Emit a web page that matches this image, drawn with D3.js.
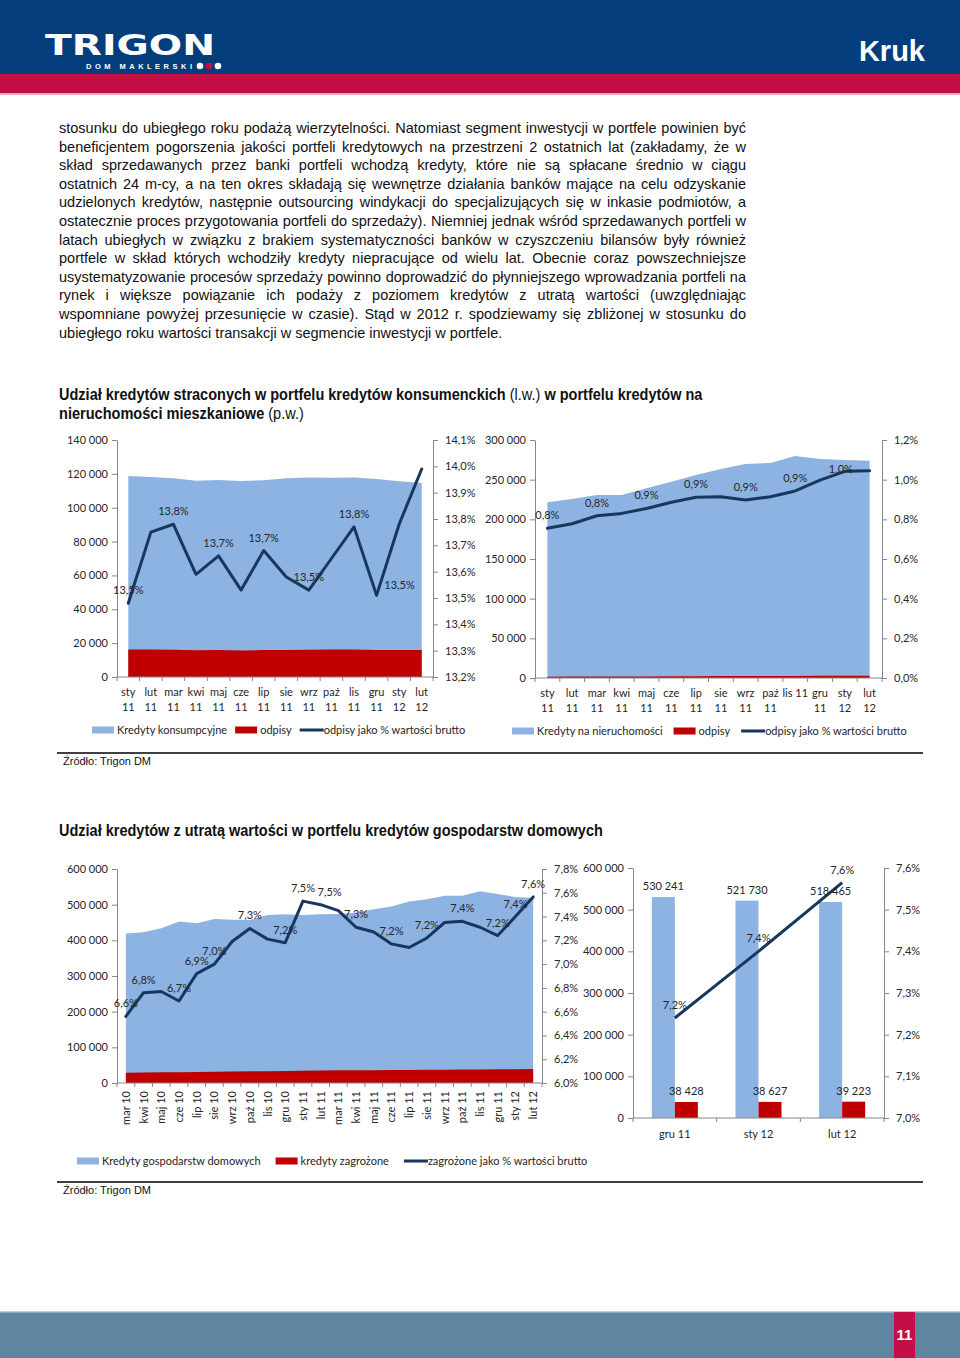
<!DOCTYPE html>
<html><head><meta charset="utf-8">
<script src="https://cdn.jsdelivr.net/npm/d3@7"></script>
<style>body{margin:0;background:#fff}svg{display:block}</style>
</head><body><div id="c"></div>
<script>
// ---------------- DATA ----------------
const paragraphLines = [
"stosunku do ubiegłego roku podażą wierzytelności. Natomiast segment inwestycji w portfele powinien być",
"beneficjentem pogorszenia jakości portfeli kredytowych na przestrzeni 2 ostatnich lat (zakładamy, że w",
"skład sprzedawanych przez banki portfeli wchodzą kredyty, które nie są spłacane średnio w ciągu",
"ostatnich 24 m-cy, a na ten okres składają się wewnętrze działania banków mające na celu odzyskanie",
"udzielonych kredytów, następnie outsourcing windykacji do specjalizujących się w inkasie podmiotów, a",
"ostatecznie proces przygotowania portfeli do sprzedaży). Niemniej jednak wśród sprzedawanych portfeli w",
"latach ubiegłych w związku z brakiem systematyczności banków w czyszczeniu bilansów były również",
"portfele w skład których wchodziły kredyty niepracujące od wielu lat. Obecnie coraz powszechniejsze",
"usystematyzowanie procesów sprzedaży powinno doprowadzić do płynniejszego wprowadzania portfeli na",
"rynek i większe powiązanie ich podaży z poziomem kredytów z utratą wartości (uwzględniając",
"wspomniane powyżej przesunięcie w czasie). Stąd w 2012 r. spodziewamy się zbliżonej w stosunku do",
"ubiegłego roku wartości transakcji w segmencie inwestycji w portfele."
];

// Chart 1: consumer loans
const chart1Categories = ["sty\n11","lut\n11","mar\n11","kwi\n11","maj\n11","cze\n11","lip\n11","sie\n11","wrz\n11","paź\n11","lis\n11","gru\n11","sty\n12","lut\n12"];
const chart1Loans = [118700,118100,117400,116000,116400,115800,116200,117400,117900,117700,117900,117000,115600,114600];
const chart1Writeoffs = [16300,16300,16100,15800,15900,15700,15900,16000,16100,16200,16300,15900,15900,16000];
const chart1Ratio = [13.48,13.75,13.78,13.59,13.66,13.53,13.68,13.58,13.53,13.65,13.77,13.51,13.78,13.99];
const chart1LabelIdx = [0,2,4,6,8,10,11];
const chart1LeftTicks = [0,20000,40000,60000,80000,100000,120000,140000];
const chart1RightTicks = [13.2,13.3,13.4,13.5,13.6,13.7,13.8,13.9,14.0,14.1];
const chart1Legend = ["Kredyty konsumpcyjne","odpisy","odpisy jako % wartości brutto"];

// Chart 2: mortgage loans
const chart2Categories = ["sty\n11","lut\n11","mar\n11","kwi\n11","maj\n11","cze\n11","lip\n11","sie\n11","wrz\n11","paź\n11","lis 11","gru\n11","sty\n12","lut\n12"];
const chart2Loans = [221400,225600,230700,230700,239100,247500,255900,263400,269700,271000,279800,276000,274800,274000];
const chart2Writeoffs = [1700,1800,1900,1900,2000,2200,2300,2400,2400,2500,2600,2800,2900,2900];
const chart2Ratio = [0.755,0.778,0.818,0.830,0.855,0.886,0.911,0.914,0.897,0.914,0.943,0.998,1.042,1.045];
const chart2LabelIdx = [0,2,4,6,8,10,12];
const chart2LeftTicks = [0,50000,100000,150000,200000,250000,300000];
const chart2RightTicks = [0,0.2,0.4,0.6,0.8,1.0,1.2];
const chart2Legend = ["Kredyty na nieruchomości","odpisy","odpisy jako % wartości brutto"];

// Chart 3: household loans
const chart3Categories = ["mar 10","kwi 10","maj 10","cze 10","lip 10","sie 10","wrz 10","paź 10","lis 10","gru 10","sty 11","lut 11","mar 11","kwi 11","maj 11","cze 11","lip 11","sie 11","wrz 11","paź 11","lis 11","gru 11","sty 12","lut 12"];
const chart3Loans = [419000,422700,434200,452900,448200,459700,457700,456900,471200,472800,471200,472800,474000,477600,487100,494700,509000,515400,524900,524900,537300,530241,521730,518465];
const chart3AtRisk = [28500,29200,29800,30300,30800,31500,32000,32600,33200,33700,34500,35000,35400,35700,36000,36300,36800,37200,37500,37800,38100,38428,38627,39223];
const chart3Ratio = [6.56,6.76,6.77,6.69,6.92,7.00,7.19,7.30,7.21,7.18,7.53,7.50,7.45,7.31,7.27,7.17,7.14,7.22,7.35,7.36,7.31,7.24,7.40,7.565];
const chart3LabelIdx = [0,1,3,4,5,7,9,10,11,13,15,17,19,21,22,23];
const chart3LeftTicks = [0,100000,200000,300000,400000,500000,600000];
const chart3RightTicks = [6.0,6.2,6.4,6.6,6.8,7.0,7.2,7.4,7.6,7.8];
const chart3Legend = ["Kredyty gospodarstw domowych","kredyty zagrożone","zagrożone jako % wartości brutto"];

// Chart 4: last three months
const chart4Categories = ["gru 11","sty 12","lut 12"];
const chart4Loans = [530241,521730,518465];
const chart4AtRisk = [38428,38627,39223];
const chart4Ratio = [7.24,7.40,7.565];
const chart4LeftTicks = [0,100000,200000,300000,400000,500000,600000];
const chart4RightTicks = [7.0,7.1,7.2,7.3,7.4,7.5,7.6];

// ---------------- STYLE ----------------
const BLUE='#8db3e2', RED='#c00000', NAVY='#17375e', AXIS='#868686', TXT='#262626';
const LAB="Lato, 'Open Sans', sans-serif";
const NARROW="'Liberation Sans Narrow','Arial Narrow','Liberation Sans',Arial,sans-serif";
const ARIAL="'Liberation Sans',Arial,sans-serif";
const loc=d3.formatLocale({decimal:",",thousands:"\u00a0",grouping:[3],currency:["",""]});
const fmtK=v=>loc.format(",d")(v).replace(/\u00a0/g,' ');
const fmtP=v=>loc.format(".1f")(v)+"%";

const svg=d3.select('#c').append('svg').attr('width',960).attr('height',1358);

// ---------------- HEADER ----------------
svg.append('rect').attr('x',0).attr('y',0).attr('width',960).attr('height',74).attr('fill','#033d7b');
svg.append('rect').attr('x',0).attr('y',74).attr('width',960).attr('height',19).attr('fill','#c40f46');
svg.append('rect').attr('x',0).attr('y',93).attr('width',960).attr('height',2).attr('fill','#f2a7bd');
svg.append('text').attr('x',45).attr('y',55).attr('fill','#fff')
  .attr('font-family',"'DejaVu Sans',sans-serif").attr('font-weight','bold').attr('font-size',29)
  .attr('textLength',170).attr('lengthAdjust','spacingAndGlyphs').text('TRIGON');
svg.append('text').attr('x',86).attr('y',69).attr('fill','#fff')
  .attr('font-family',ARIAL).attr('font-weight','bold').attr('font-size',7.5)
  .attr('textLength',106).attr('lengthAdjust','spacing').text('DOM MAKLERSKI');
[['#fff',200],['#c40f46',209],['#fff',218]].forEach(([c,x])=>{
  svg.append('circle').attr('cx',x).attr('cy',66).attr('r',3.3).attr('fill',c);
});
svg.append('text').attr('x',925).attr('y',61).attr('text-anchor','end').attr('fill','#fff')
  .attr('font-family',NARROW).attr('font-weight','bold').attr('font-size',29).text('Kruk');

// ---------------- PARAGRAPH ----------------
const PX0=59, PX1=746, PB0=133, PLH=18.6;
paragraphLines.forEach((line,k)=>{
  const y=PB0+k*PLH;
  const t=svg.append('text').attr('y',y).attr('font-family',NARROW).attr('font-size',14.5).attr('fill','#111');
  if(k===paragraphLines.length-1){ t.attr('x',PX0).text(line); return; }
  const words=line.split(' ');
  const spans=words.map(w=>t.append('tspan').text(w));
  const widths=spans.map(s=>s.node().getComputedTextLength());
  const total=d3.sum(widths);
  const gap=(PX1-PX0-total)/(words.length-1);
  let cx=PX0;
  spans.forEach((s,i)=>{ s.attr('x',cx); cx+=widths[i]+gap; });
});

// ---------------- TITLES ----------------
function title(y,parts,target){
  const g=svg.append('g');
  const t=g.append('text').attr('x',0).attr('y',0).attr('font-family',NARROW).attr('font-size',16).attr('fill','#111');
  parts.forEach(([s,b])=>t.append('tspan').attr('font-weight',b?'bold':'normal').text(s));
  const w=t.node().getComputedTextLength();
  g.attr('transform',`translate(59,${y}) scale(${target/w},1)`);
}
title(400,[["Udział kredytów straconych w portfelu kredytów konsumenckich ",1],["(l.w.)",0],[" w portfelu kredytów na",1]],644);
title(419,[["nieruchomości mieszkaniowe ",1],["(p.w.)",0]],245);
title(836,[["Udział kredytów z utratą wartości w portfelu kredytów gospodarstw domowych",1]],544);

// ---------------- HELPERS ----------------
function sideAxis(g,scale,ticks,fmt,xPos,side,pad){
  const ax=(side==='left'?d3.axisLeft(scale):d3.axisRight(scale))
    .tickValues(ticks).tickFormat(fmt).tickSizeInner(5).tickSizeOuter(0).tickPadding(pad);
  const a=g.append('g').attr('transform',`translate(${xPos},0)`).call(ax)
    .attr('font-family',LAB).attr('font-size',11);
  a.select('.domain').attr('stroke',AXIS);
  a.selectAll('.tick line').attr('stroke',AXIS);
  a.selectAll('.tick text').attr('fill',TXT);
}
function legend(x,y,names,gap){
  let cx=x;
  names.forEach((n,i)=>{
    if(i<2) svg.append('rect').attr('x',cx).attr('y',y-3.5).attr('width',22).attr('height',7).attr('fill',i===0?BLUE:RED);
    else svg.append('line').attr('x1',cx).attr('x2',cx+24).attr('y1',y).attr('y2',y).attr('stroke',NAVY).attr('stroke-width',3);
    const t=svg.append('text').attr('x',cx+(i<2?25:24)).attr('y',y+4).attr('font-family',LAB).attr('font-size',11).attr('fill',TXT).text(n);
    cx+= (i<2?25:24) + t.node().getComputedTextLength() + gap;
  });
}

function combo(o){
  const g=svg.append('g');
  const idx=d3.range(o.cats.length);
  const x=d3.scalePoint().domain(idx).range([o.x0,o.x1]).padding(0.5);
  const step=x.step();
  const yL=d3.scaleLinear().domain([o.lt[0],o.lt[o.lt.length-1]]).range([o.y0,o.yT]);
  const yR=d3.scaleLinear().domain([o.rt[0],o.rt[o.rt.length-1]]).range([o.y0,o.yT]);
  g.append('path').datum(idx).attr('fill',BLUE)
    .attr('d',d3.area().x(i=>x(i)).y0(yL(0)).y1(i=>yL(o.loans[i])));
  g.append('path').datum(idx).attr('fill',RED)
    .attr('d',d3.area().x(i=>x(i)).y0(yL(0)).y1(i=>yL(o.wo[i])));
  g.append('path').datum(idx).attr('fill','none').attr('stroke',NAVY).attr('stroke-width',3)
    .attr('stroke-linejoin','round').attr('stroke-linecap','round')
    .attr('d',d3.line().x(i=>x(i)).y(i=>yR(o.ratio[i])));
  sideAxis(g,yL,o.lt,fmtK,o.x0,'left',4);
  sideAxis(g,yR,o.rt,fmtP,o.x1,'right',o.rpad);
  // category axis
  g.append('line').attr('x1',o.x0).attr('x2',o.x1).attr('y1',o.y0).attr('y2',o.y0).attr('stroke',AXIS);
  g.selectAll('.ct').data(d3.range(o.cats.length+1)).join('line')
    .attr('x1',k=>x(0)-step/2+k*step).attr('x2',k=>x(0)-step/2+k*step)
    .attr('y1',o.y0).attr('y2',o.y0+4).attr('stroke',AXIS);
  if(o.rotate){
    g.selectAll('.cl').data(idx).join('text')
      .attr('transform',i=>`translate(${x(i)+4},${o.y0+8}) rotate(-90)`)
      .attr('text-anchor','end').attr('font-family',LAB).attr('font-size',11).attr('fill',TXT)
      .text(i=>o.cats[i]);
  } else {
    idx.forEach(i=>{
      const t=g.append('text').attr('text-anchor','middle').attr('font-family',LAB).attr('font-size',11).attr('fill',TXT);
      o.cats[i].split('\n').forEach((s,j)=>t.append('tspan').attr('x',x(i)).attr('y',o.y0+19+j*14.5).text(s));
    });
  }
  // data labels
  o.labelIdx.forEach(i=>{
    const sh=(o.shift&&o.shift[i])||[0,0];
    g.append('text').attr('x',x(i)+sh[0]).attr('y',yR(o.ratio[i])-9+sh[1])
      .attr('text-anchor','middle').attr('font-family',LAB).attr('font-size',11).attr('fill',TXT)
      .text(fmtP(o.ratio[i]));
  });
}

// ---------------- CHART 1 ----------------
combo({cats:chart1Categories,loans:chart1Loans,wo:chart1Writeoffs,ratio:chart1Ratio,
  lt:chart1LeftTicks,rt:chart1RightTicks,x0:117,x1:433,y0:677,yT:440,rpad:7,
  labelIdx:chart1LabelIdx,shift:{11:[23,3]}});
legend(92,730,chart1Legend,8);

// ---------------- CHART 2 ----------------
combo({cats:chart2Categories,loans:chart2Loans,wo:chart2Writeoffs,ratio:chart2Ratio,
  lt:chart2LeftTicks,rt:chart2RightTicks,x0:535,x1:882,y0:678,yT:440,rpad:7,
  labelIdx:chart2LabelIdx,shift:{12:[-4,11]}});
legend(512,731,chart2Legend,11);

// separator + source 1
svg.append('line').attr('x1',57).attr('x2',923).attr('y1',753).attr('y2',753).attr('stroke','#000').attr('stroke-width',1.5);
svg.append('text').attr('x',63).attr('y',765).attr('font-family',ARIAL).attr('font-size',11).attr('fill','#111').text('Źródło: Trigon DM');

// ---------------- CHART 3 ----------------
combo({cats:chart3Categories,loans:chart3Loans,wo:chart3AtRisk,ratio:chart3Ratio,
  lt:chart3LeftTicks,rt:chart3RightTicks,x0:117,x1:542,y0:1083,yT:869,rpad:7,rotate:true,
  labelIdx:chart3LabelIdx,shift:{11:[9,0]}});
legend(77,1161,chart3Legend,15);

// ---------------- CHART 4 ----------------
(function(){
  const g=svg.append('g');
  const x0=633,x1=884,y0=1118,yT=868;
  const xb=d3.scaleBand().domain(chart4Categories).range([x0,x1]);
  const bw=xb.bandwidth()*0.275;
  const c=d=>xb(d)+xb.bandwidth()/2;
  const yL=d3.scaleLinear().domain([chart4LeftTicks[0],chart4LeftTicks[chart4LeftTicks.length-1]]).range([y0,yT]);
  const yR=d3.scaleLinear().domain([chart4RightTicks[0],chart4RightTicks[chart4RightTicks.length-1]]).range([y0,yT]);
  g.selectAll('.b1').data(chart4Categories).join('rect').attr('fill',BLUE)
    .attr('x',d=>c(d)-bw).attr('width',bw).attr('y',(d,i)=>yL(chart4Loans[i])).attr('height',(d,i)=>y0-yL(chart4Loans[i]));
  g.selectAll('.b2').data(chart4Categories).join('rect').attr('fill',RED)
    .attr('x',d=>c(d)).attr('width',bw).attr('y',(d,i)=>yL(chart4AtRisk[i])).attr('height',(d,i)=>y0-yL(chart4AtRisk[i]));
  sideAxis(g,yL,chart4LeftTicks,fmtK,x0,'left',4);
  sideAxis(g,yR,chart4RightTicks,fmtP,x1,'right',7);
  g.append('line').attr('x1',x0).attr('x2',x1).attr('y1',y0).attr('y2',y0).attr('stroke',AXIS);
  g.selectAll('.ct').data(chart4Categories.map(d=>xb(d)).concat([x1])).join('line')
    .attr('x1',d=>d).attr('x2',d=>d).attr('y1',y0).attr('y2',y0+4).attr('stroke',AXIS);
  g.append('path').datum(chart4Categories).attr('fill','none').attr('stroke',NAVY).attr('stroke-width',3)
    .attr('d',d3.line().x(d=>c(d)).y((d,i)=>yR(chart4Ratio[i])));
  const lab=(x,y,s)=>g.append('text').attr('x',x).attr('y',y).attr('text-anchor','middle')
    .attr('font-family',LAB).attr('font-size',11).attr('fill',TXT).text(s);
  chart4Categories.forEach((d,i)=>{
    lab(c(d)-bw/2,yL(chart4Loans[i])-7,fmtK(chart4Loans[i]));
    lab(c(d)+bw/2,yL(chart4AtRisk[i])-7,fmtK(chart4AtRisk[i]));
    lab(c(d),yR(chart4Ratio[i])-9,fmtP(chart4Ratio[i]));
    lab(c(d),y0+20,d);
  });
})();

// separator + source 2
svg.append('line').attr('x1',57).attr('x2',923).attr('y1',1182).attr('y2',1182).attr('stroke','#000').attr('stroke-width',1.5);
svg.append('text').attr('x',63).attr('y',1194).attr('font-family',ARIAL).attr('font-size',11).attr('fill','#111').text('Źródło: Trigon DM');

// ---------------- FOOTER ----------------
svg.append('rect').attr('x',0).attr('y',1311).attr('width',960).attr('height',47).attr('fill','#5f86a1');
svg.append('rect').attr('x',0).attr('y',1311).attr('width',960).attr('height',1.5).attr('fill','#b9d0df');
svg.append('rect').attr('x',894).attr('y',1312).attr('width',21).attr('height',46).attr('fill','#c40f46');
svg.append('text').attr('x',904.5).attr('y',1340).attr('text-anchor','middle').attr('fill','#fff')
  .attr('font-family',NARROW).attr('font-weight','bold').attr('font-size',15).text('11');
</script></body></html>
